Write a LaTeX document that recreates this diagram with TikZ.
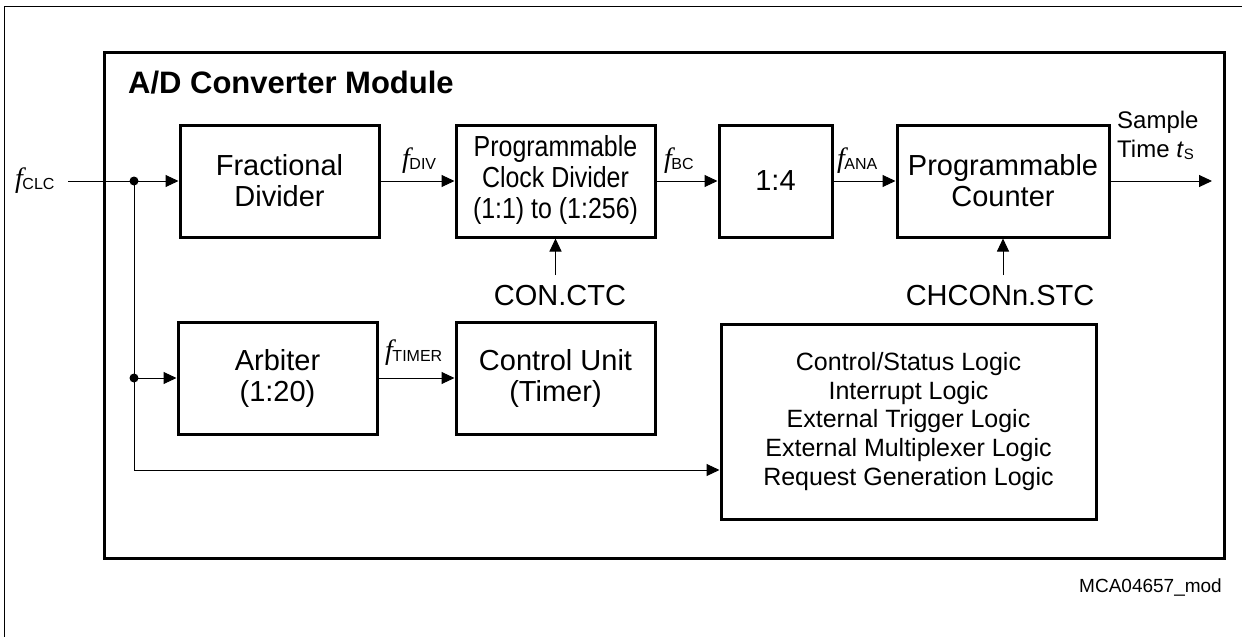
\documentclass[tikz,border=0pt]{standalone}
\usepackage{fontspec}
\setmainfont{Liberation Sans}
\newfontfamily\seriffam{Liberation Serif}
\usetikzlibrary{arrows.meta}
\newcommand{\fsub}[1]{{\fontsize{28}{28}\seriffam\itshape f}\kern-0.5pt{\fontsize{16}{16}\selectfont\raisebox{-2.5pt}{#1}}}
\begin{document}
\begin{tikzpicture}[x=1pt,y=-1pt,
  blk/.style={draw, line width=3pt, align=center, inner sep=0pt, font=\fontsize{29}{31}\selectfont},
  sig/.style={line width=1pt, -{Triangle[length=13pt,width=12pt]}},
  wire/.style={line width=1pt},
  lbl/.style={inner sep=0pt, anchor=base west},
  ctl/.style={inner sep=0pt, anchor=base, font=\fontsize{29}{31}\selectfont},
  dotfill/.style={fill=black}]
\useasboundingbox (0,0) rectangle (1242,637);
% outer frame
\draw[line width=1pt] (4,6) rectangle (1250,645);
% module
\node[draw, line width=3pt, minimum width=1120pt, minimum height=506pt, inner sep=0pt] (module) at (664,305) {};
\node[lbl, font=\fontsize{31}{31}\selectfont\bfseries] (title) at (128,93) {A/D Converter Module};
% blocks
\node[blk, minimum width=199pt, minimum height=112pt] (frac) at (279.5,181) {Fractional\\Divider};
\node[blk, minimum width=199pt, minimum height=112pt] (clk) at (555.5,181)
  {\scalebox{0.86}[1]{\begin{tabular}{@{}c@{}}Programmable\\Clock Divider\\(1:1) to (1:256)\end{tabular}}};
\node[blk, minimum width=113pt, minimum height=112pt] (quart) at (775.5,181) {1:4};
\node[blk, minimum width=212pt, minimum height=112pt] (cnt) at (1003,181) {Programmable\\Counter};
\node[blk, minimum width=199pt, minimum height=112pt] (arb) at (277.5,378) {Arbiter\\(1:20)};
\node[blk, minimum width=199pt, minimum height=112pt] (cu) at (555.5,378) {Control Unit\\(Timer)};
\node[blk, minimum width=375pt, minimum height=195pt, font=\fontsize{25}{28.7}\selectfont] (logic) at (908.5,421.5)
  {Control/Status Logic\\Interrupt Logic\\External Trigger Logic\\External Multiplexer Logic\\Request Generation Logic};
% labels
\node[lbl] (lclc) at (15,187) {\fsub{CLC}};
\node[lbl] (ldiv) at (402,167) {\fsub{DIV}};
\node[lbl] (lbc) at (664,167) {\fsub{BC}};
\node[lbl] (lana) at (837,167) {\fsub{ANA}};
\node[lbl] (ltimer) at (385,359) {\fsub{TIMER}};
\node[ctl] (conctc) at (560,305) {CON.CTC};
\node[ctl] (chcon) at (1000,305) {CHCONn.STC};
\node[lbl, font=\fontsize{24}{29}\selectfont] (samp) at (1117,128) {Sample};
\node[lbl, font=\fontsize{24}{29}\selectfont] (time) at (1117,157) {Time \textit{t}{\fontsize{15}{15}\selectfont\raisebox{-2pt}{S}}};
\node[inner sep=0pt, anchor=base east, font=\fontsize{19}{19}\selectfont] (code) at (1222,592) {MCA04657\_mod};
% coordinates
\coordinate (in) at (68,181);
\coordinate (j1) at (134,181);
\coordinate (j2) at (134,378);
\coordinate (j3) at (134,470);
\coordinate (out) at (1212,181);
\coordinate (conA) at (555.5,275);
\coordinate (chA) at (1003,275);
% connectors
\draw[sig] (in) -- (frac.west);
\draw[wire] (j1) -- (j3);
\draw[sig] (j2) -- (arb.west);
\draw[sig] (j3) -- (logic.west |- j3);
\draw[sig] (frac.east) -- (clk.west);
\draw[sig] (clk.east) -- (quart.west);
\draw[sig] (quart.east) -- (cnt.west);
\draw[sig] (cnt.east) -- (out);
\draw[sig] (arb.east) -- (cu.west);
\draw[sig] (conA) -- (clk.south);
\draw[sig] (chA) -- (cnt.south);
\fill[dotfill] (j1) circle (4.5pt);
\fill[dotfill] (j2) circle (4.5pt);
\end{tikzpicture}
\end{document}
